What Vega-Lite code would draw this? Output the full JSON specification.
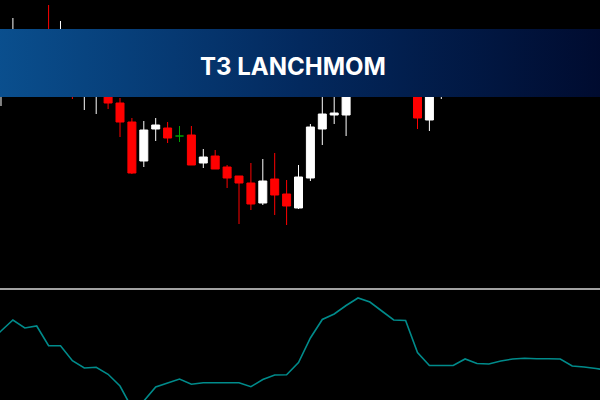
{
  "$schema": "https://vega.github.io/schema/vega-lite/v6.json",
  "width": 600,
  "height": 400,
  "autosize": {"type": "fit", "contains": "padding"},
  "padding": 0,
  "background": "#000000",
  "config": {"view": {"stroke": null}, "scale": {"continuousPadding": 0}},
  "datasets": {
    "candles": [
      {"i": 0, "open": 915, "high": 950, "low": 894, "close": 940},
      {"i": 1, "open": 930, "high": 982, "low": 920, "close": 955},
      {"i": 2, "open": 950, "high": 960, "low": 920, "close": 930},
      {"i": 3, "open": 925, "high": 955, "low": 915, "close": 945},
      {"i": 4, "open": 960, "high": 995, "low": 910, "close": 930},
      {"i": 5, "open": 930, "high": 979, "low": 915, "close": 960},
      {"i": 6, "open": 940, "high": 950, "low": 901, "close": 910},
      {"i": 7, "open": 910, "high": 945, "low": 890, "close": 935},
      {"i": 8, "open": 908, "high": 940, "low": 886, "close": 930},
      {"i": 9, "open": 920, "high": 930, "low": 891, "close": 897},
      {"i": 10, "open": 897, "high": 902, "low": 863, "close": 878},
      {"i": 11, "open": 878, "high": 882, "low": 826, "close": 827},
      {"i": 12, "open": 839, "high": 879, "low": 833, "close": 870},
      {"i": 13, "open": 871, "high": 882, "low": 859, "close": 875},
      {"i": 14, "open": 872, "high": 878, "low": 857, "close": 862},
      {"i": 15, "open": 864, "high": 874, "low": 858, "close": 864},
      {"i": 16, "open": 865, "high": 874, "low": 835, "close": 835},
      {"i": 17, "open": 837, "high": 851, "low": 832, "close": 843},
      {"i": 18, "open": 844, "high": 850, "low": 831, "close": 831},
      {"i": 19, "open": 833, "high": 835, "low": 812, "close": 822},
      {"i": 20, "open": 824, "high": 824, "low": 776, "close": 817},
      {"i": 21, "open": 817, "high": 837, "low": 790, "close": 796},
      {"i": 22, "open": 797, "high": 841, "low": 795, "close": 819},
      {"i": 23, "open": 821, "high": 847, "low": 785, "close": 805},
      {"i": 24, "open": 806, "high": 820, "low": 775, "close": 794},
      {"i": 25, "open": 792, "high": 835, "low": 791, "close": 823},
      {"i": 26, "open": 822, "high": 876, "low": 819, "close": 873},
      {"i": 27, "open": 871, "high": 910, "low": 855, "close": 886},
      {"i": 28, "open": 885, "high": 920, "low": 876, "close": 887},
      {"i": 29, "open": 885, "high": 925, "low": 864, "close": 915},
      {"i": 30, "open": 912, "high": 955, "low": 907, "close": 940},
      {"i": 31, "open": 938, "high": 950, "low": 908, "close": 920},
      {"i": 32, "open": 920, "high": 955, "low": 910, "close": 942},
      {"i": 33, "open": 940, "high": 960, "low": 912, "close": 925},
      {"i": 34, "open": 925, "high": 938, "low": 906, "close": 915},
      {"i": 35, "open": 915, "high": 925, "low": 871, "close": 882},
      {"i": 36, "open": 880, "high": 928, "low": 869, "close": 918},
      {"i": 37, "open": 912, "high": 945, "low": 901, "close": 930},
      {"i": 38, "open": 930, "high": 940, "low": 907, "close": 915},
      {"i": 39, "open": 915, "high": 945, "low": 908, "close": 935},
      {"i": 40, "open": 935, "high": 942, "low": 910, "close": 920},
      {"i": 41, "open": 920, "high": 940, "low": 912, "close": 930},
      {"i": 42, "open": 928, "high": 948, "low": 915, "close": 938},
      {"i": 43, "open": 938, "high": 945, "low": 915, "close": 925},
      {"i": 44, "open": 925, "high": 950, "low": 918, "close": 940},
      {"i": 45, "open": 940, "high": 948, "low": 920, "close": 928},
      {"i": 46, "open": 928, "high": 945, "low": 918, "close": 938},
      {"i": 47, "open": 938, "high": 945, "low": 912, "close": 922},
      {"i": 48, "open": 922, "high": 930, "low": 906, "close": 912},
      {"i": 49, "open": 912, "high": 930, "low": 907, "close": 924},
      {"i": 50, "open": 924, "high": 932, "low": 908, "close": 916}
    ],
    "mom": [
      {"i": -1, "mom": 9}, {"i": 0, "mom": 19}, {"i": 1, "mom": 30}, {"i": 2, "mom": 22},
      {"i": 3, "mom": 24}, {"i": 4, "mom": 4.3}, {"i": 5, "mom": 4.3}, {"i": 6, "mom": -10.7},
      {"i": 7, "mom": -18}, {"i": 8, "mom": -17.3}, {"i": 9, "mom": -24.3}, {"i": 10, "mom": -36},
      {"i": 11, "mom": -58}, {"i": 12, "mom": -51}, {"i": 13, "mom": -37}, {"i": 14, "mom": -33},
      {"i": 15, "mom": -29}, {"i": 16, "mom": -34.3}, {"i": 17, "mom": -32.7}, {"i": 18, "mom": -32.7},
      {"i": 19, "mom": -32.7}, {"i": 20, "mom": -32.7}, {"i": 21, "mom": -36.7}, {"i": 22, "mom": -29.5},
      {"i": 23, "mom": -25}, {"i": 24, "mom": -24.7}, {"i": 25, "mom": -12.5}, {"i": 26, "mom": 12},
      {"i": 27, "mom": 30.5}, {"i": 28, "mom": 36}, {"i": 29, "mom": 44.5}, {"i": 30, "mom": 52},
      {"i": 31, "mom": 48}, {"i": 32, "mom": 39}, {"i": 33, "mom": 30}, {"i": 34, "mom": 29.5},
      {"i": 35, "mom": -2.5}, {"i": 36, "mom": -15.5}, {"i": 37, "mom": -15.5}, {"i": 38, "mom": -15.5},
      {"i": 39, "mom": -9}, {"i": 40, "mom": -13.5}, {"i": 41, "mom": -14}, {"i": 42, "mom": -11},
      {"i": 43, "mom": -9}, {"i": 44, "mom": -8.3}, {"i": 45, "mom": -8.7}, {"i": 46, "mom": -8.7},
      {"i": 47, "mom": -9}, {"i": 48, "mom": -16}, {"i": 49, "mom": -17}, {"i": 50, "mom": -18.5},
      {"i": 51, "mom": -20.5}
    ]
  },
  "resolve": {"scale": {"y": "independent"}},
  "layer": [
    {
      "data": {"name": "candles"},
      "mark": {"type": "rule", "strokeWidth": 1, "clip": true},
      "encoding": {
        "x": {"field": "i", "type": "quantitative", "scale": {"domain": [-0.084, 50.336], "nice": false, "zero": false, "padding": 0}, "axis": null},
        "y": {"field": "high", "type": "quantitative", "scale": {"domain": [600, 1000], "nice": false, "zero": false}, "axis": null},
        "y2": {"field": "low"},
        "color": {
          "condition": [
            {"test": "datum.close > datum.open", "value": "#ffffff"},
            {"test": "datum.close < datum.open", "value": "#ff0000"}
          ],
          "value": "#00a000"
        }
      }
    },
    {
      "data": {"name": "candles"},
      "mark": {"type": "bar", "size": 8, "strokeWidth": 1, "clip": true},
      "encoding": {
        "x": {"field": "i", "type": "quantitative", "scale": {"domain": [-0.084, 50.336], "nice": false, "zero": false, "padding": 0}, "axis": null},
        "y": {"field": "open", "type": "quantitative", "scale": {"domain": [600, 1000], "nice": false, "zero": false}, "axis": null},
        "y2": {"field": "close"},
        "color": {
          "condition": [
            {"test": "datum.close > datum.open", "value": "#ffffff"},
            {"test": "datum.close < datum.open", "value": "#ff0000"}
          ],
          "value": "#00a000"
        },
        "stroke": {
          "condition": [
            {"test": "datum.close > datum.open", "value": "#ffffff"},
            {"test": "datum.close < datum.open", "value": "#ff0000"}
          ],
          "value": "#00a000"
        }
      }
    },
    {
      "data": {"name": "mom"},
      "mark": {"type": "line", "color": "#008b8b", "strokeWidth": 1.6, "clip": true},
      "encoding": {
        "x": {"field": "i", "type": "quantitative", "scale": {"domain": [-0.084, 50.336], "nice": false, "zero": false, "padding": 0}, "axis": null},
        "y": {"field": "mom", "type": "quantitative", "scale": {"domain": [-50, 350], "nice": false, "zero": false}, "axis": null}
      }
    },
    {
      "data": {"values": [{}]},
      "mark": {"type": "rule", "color": "#d8d8d8", "strokeWidth": 1.5, "clip": true},
      "encoding": {
        "y": {"datum": 711, "type": "quantitative", "scale": {"domain": [600, 1000], "nice": false, "zero": false}, "axis": null}
      }
    },
    {
      "data": {"values": [{}]},
      "mark": {
        "type": "rect",
        "clip": true,
        "color": {
          "gradient": "linear",
          "x1": 0, "y1": 0, "x2": 1, "y2": 0,
          "stops": [
            {"offset": 0, "color": "#0a4f8e"},
            {"offset": 0.5, "color": "#03295e"},
            {"offset": 1, "color": "#000b2f"}
          ]
        }
      },
      "encoding": {
        "x": {"datum": -0.3, "type": "quantitative", "scale": {"domain": [-0.084, 50.336], "nice": false, "zero": false, "padding": 0}, "axis": null},
        "x2": {"datum": 50.6},
        "y": {"datum": 971, "type": "quantitative", "scale": {"domain": [600, 1000], "nice": false, "zero": false}, "axis": null},
        "y2": {"datum": 903}
      }
    },
    {
      "data": {"values": [{}]},
      "mark": {"type": "text", "font": "Inter", "fontWeight": "bold", "fontSize": 24, "color": "#ffffff", "align": "center", "baseline": "middle", "clip": true},
      "encoding": {
        "x": {"datum": 24.54, "type": "quantitative", "scale": {"domain": [-0.084, 50.336], "nice": false, "zero": false, "padding": 0}, "axis": null},
        "y": {"datum": 932, "type": "quantitative", "scale": {"domain": [600, 1000], "nice": false, "zero": false}, "axis": null},
        "text": {"value": "T3 LANCHMOM"}
      }
    }
  ]
}
